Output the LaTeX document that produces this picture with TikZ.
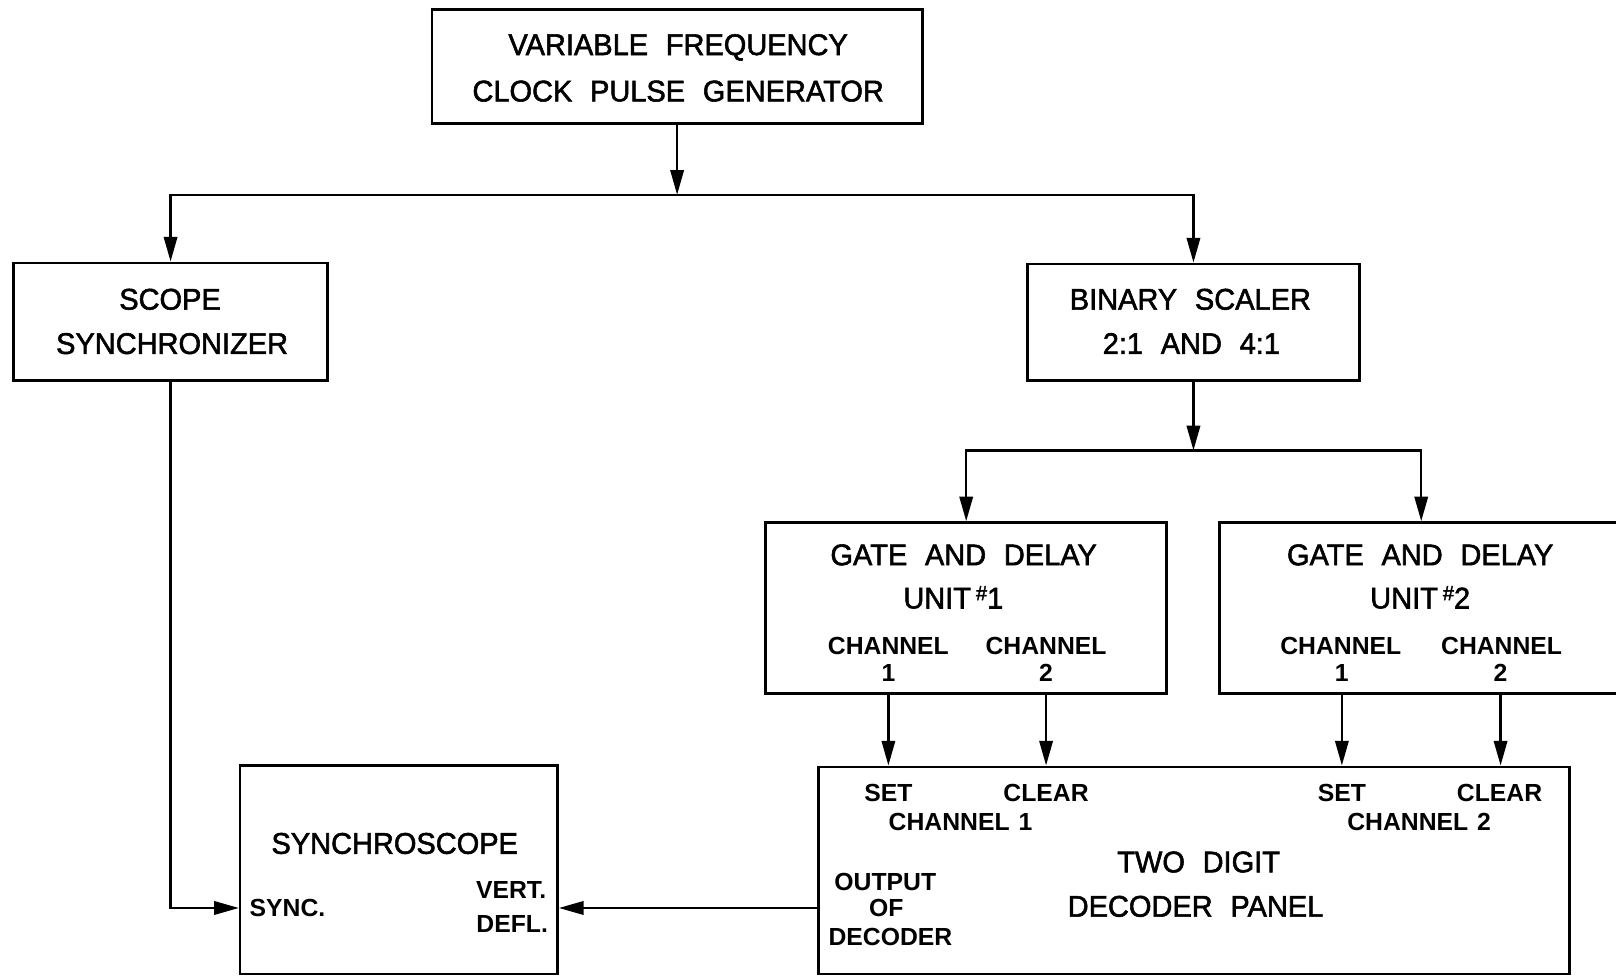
\documentclass[tikz,border=0pt]{standalone}
\usepackage{fontspec}
\setmainfont{Liberation Sans}[WordSpace=2.2, FakeStretch=0.97, FakeBold=1.8]
\newfontfamily\smallfam{Liberation Sans}[WordSpace=1.3]
\usetikzlibrary{arrows.meta}
\tikzset{
  box/.style={draw, line width=2.5pt, inner sep=0pt},
  big/.style={font=\fontsize{29}{29}\selectfont, inner sep=0pt, text height=20.8pt, text depth=0pt},
  sm/.style={font=\smallfam\bfseries\fontsize{24}{24}\selectfont, inner sep=0pt, text height=17.2pt, text depth=0pt},
  wire/.style={line width=2.3pt},
  arr/.style={wire, -{Triangle[length=24pt, width=13pt]}},
}
\newcommand{\unitno}[1]{UNIT\,\raisebox{8pt}{\fontsize{20}{20}\selectfont\#}#1}
\begin{document}
\begin{tikzpicture}[x={(1pt,0)}, y={(0,-1pt)}]
\useasboundingbox (0,0) rectangle (1568,948);
\clip (0,0) rectangle (1568,948);
\fill[white] (0,0) rectangle (1568,948);

% blocks
\node[box, minimum width=476pt, minimum height=111pt] (clk) at (657,64.5) {};
\node[box, minimum width=305pt, minimum height=114pt] (scope) at (165.5,312) {};
\node[box, minimum width=322pt, minimum height=113pt] (bin) at (1158,312.5) {};
\node[box, minimum width=389pt, minimum height=166pt] (gd1) at (937.5,590) {};
\node[box, minimum width=392pt, minimum height=166pt] (gd2) at (1379,590) {};
\node[box, minimum width=308pt, minimum height=202pt] (sync) at (387,844) {};
\node[box, minimum width=729pt, minimum height=201pt] (dec) at (1158.5,844.5) {};

% block titles
\node[big] (clkA) at (658,43) {VARIABLE FREQUENCY};
\node[big] (clkB) at (658,88) {CLOCK PULSE GENERATOR};
\node[big] (scA) at (165,290) {SCOPE};
\node[big] (scB) at (167,333) {SYNCHRONIZER};
\node[big] (binA) at (1155,290) {BINARY SCALER};
\node[big] (binB) at (1156,333) {2:1 AND 4:1};

\node[big] (g1A) at (935,538) {GATE AND DELAY};
\node[big] (g1B) at (925,580) {\unitno{1}};
\node[sm] (g1c1) at (862,626) {CHANNEL};
\node[sm] (g1c2) at (1015,626) {CHANNEL};
\node[sm] (g1n1) at (862,653) {1};
\node[sm] (g1n2) at (1015,653) {2};

\node[big] (g2A) at (1378,538) {GATE AND DELAY};
\node[big] (g2B) at (1378,580) {\unitno{2}};
\node[sm] (g2c1) at (1301,626) {CHANNEL};
\node[sm] (g2c2) at (1457,626) {CHANNEL};
\node[sm] (g2n1) at (1302,653) {1};
\node[sm] (g2n2) at (1456,653) {2};

\node[sm] (set1) at (862,769) {SET};
\node[sm] (clr1) at (1015,769) {CLEAR};
\node[sm] (ch1) at (932,797) {CHANNEL 1};
\node[sm] (set2) at (1302,769) {SET};
\node[sm] (clr2) at (1455,769) {CLEAR};
\node[sm] (ch2) at (1377,797) {CHANNEL 2};
\node[sm] (outA) at (859,855) {OUTPUT};
\node[sm] (outB) at (860,881) {OF};
\node[sm] (outC) at (864,909) {DECODER};
\node[big] (decA) at (1163,836) {TWO DIGIT};
\node[big] (decB) at (1160,879) {DECODER PANEL};

\node[big] (syA) at (383,818) {SYNCHROSCOPE};
\node[sm] (syS) at (279,881) {SYNC.};
\node[sm] (syV) at (496,863) {VERT.};
\node[sm] (syD) at (497,896) {DEFL.};

% distribution of the clock pulses
\coordinate (j1) at (657,189);
\draw[arr] (clk.south) -- (j1);
\draw[arr] (j1) -| (scope.north);
\draw[arr] (j1) -| (bin.north);

\coordinate (j2) at (1158,437);
\draw[arr] (bin.south) -- (j2);
\draw[arr] (j2) -| (gd1.north);
\draw[arr] (j2) -| (gd2.north);

% channel outputs into the decoder
\draw[arr] (gd1.south -| g1n1) -- (dec.north -| g1n1);
\draw[arr] (gd1.south -| g1n2) -- (dec.north -| g1n2);
\draw[arr] (gd2.south -| g2n1) -- (dec.north -| g2n1);
\draw[arr] (gd2.south -| g2n2) -- (dec.north -| g2n2);

% synchroscope inputs
\draw[arr] (scope.south) |- (sync.west |- syS);
\draw[arr] (dec.west |- outB) -- (sync.east |- outB);
\end{tikzpicture}
\end{document}
